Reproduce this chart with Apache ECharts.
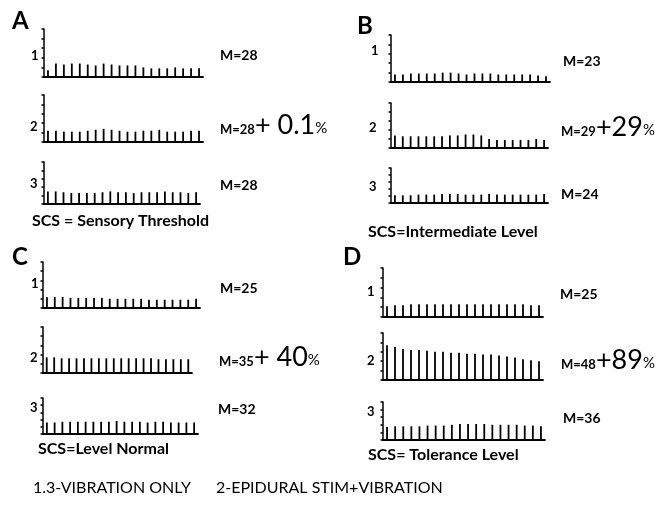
<!DOCTYPE html>
<html><head><meta charset="utf-8">
<script src="https://cdn.jsdelivr.net/npm/echarts@6/dist/echarts.min.js"></script>
<style>html,body{margin:0;padding:0;background:#fff}#c{width:665px;height:506px}</style>
</head><body><div id="c"></div>
<script>
// 20 stimulation trials per trace
const trials = Array.from({length: 20}, (_, i) => String(i + 1));
// spike amplitudes (arbitrary units, axis 0-50)
const A1 = [7,14,13,14,14,13,12,14,13,12,12,12,10,9,9,9,10,9,9,9];
const A2 = [12,12,11,11,11,12,13,14,13,12,11,11,12,12,13,11,11,11,12,12];
const A3 = [15,15,14,13,13,13,13,14,15,14,14,13,14,14,14,15,14,14,13,14];
const B1 = [8,8,9,9,9,9,10,10,9,8,9,9,9,8,8,8,8,8,7,6];
const B2 = [14,13,13,13,13,13,13,14,14,15,15,14,10,9,9,9,9,9,10,9];
const B3 = [11,11,11,12,12,12,13,13,13,12,12,12,13,12,12,12,12,12,12,13];
const C1 = [12,12,12,11,11,11,11,11,10,10,10,10,10,9,9,9,9,9,9,10];
const C2 = [17,17,16,16,16,16,16,16,16,16,16,16,16,16,16,15,15,15,15,15];
const C3 = [16,16,17,17,17,17,17,17,17,18,17,17,17,16,17,17,16,16,16,16];
const D1 = [11,12,12,13,13,13,13,13,13,13,13,13,13,13,13,13,13,13,12,12];
const D2 = [37,35,33,32,32,31,30,30,29,29,28,28,27,27,26,25,24,22,21,20];
const D3 = [17,18,18,18,18,19,19,19,20,21,21,21,21,20,20,20,20,19,19,18];
const traces = [A1,A2,A3,B1,B2,B3,C1,C2,C3,D1,D2,D3];
const yMax = 50, yStep = 10;
// labels
const panelLetters = ['A','B','C','D'];
const traceNames = ['1','2','3'];
const means = ['M=28','M=28','M=28','M=23','M=29','M=24','M=25','M=35','M=32','M=25','M=48','M=36'];
const changes = ['+ 0.1','+29','+ 40','+89'];
const panelTitles = ['SCS = Sensory Threshold','SCS=Intermediate Level','SCS=Level Normal','SCS= Tolerance Level'];
const footer1 = '1.3-VIBRATION ONLY';
const footer2 = '2-EPIDURAL STIM+VIBRATION';

// layout: [axisX, top, rightEnd, baseline]
const boxes = [
 [44,29,203,77],[44,95,203,142],[44,162,200,204],
 [391,35,550,82],[391,103,548,148],[391,168,548,203],
 [43,262,200,308],[43,327,192,373],[43,398,198,434],
 [383,268,543,317],[383,333,543,380],[383,402,545,440]
];
const meanPos = [[220,57],[220,128],[220,187],[563,63],[561,130],[561,196],[220,290],[219,360],[218,411],[560,296],[561,363],[563,420]];
const numPos = [[31,57],[30,128],[30,185],[371,52],[369,129],[369,188],[31,285],[30,359],[30,409],[367,293],[367,362],[367,413]];
const letterPos = [[12,22],[357,27],[12,258],[343,258]];
const titlePos = [[32,222],[368,233],[38,450],[368,456]];

const FONT = 'Lato, "DejaVu Sans", sans-serif';
const grid=[], xAxis=[], yAxis=[], series=[], graphic=[];
traces.forEach((d,i)=>{
  const b = boxes[i];
  grid.push({left:b[0], top:b[1], width:b[2]-b[0], height:b[3]-b[1]});
  xAxis.push({type:'category', gridIndex:i, data:trials, boundaryGap:true,
    axisLine:{show:true, lineStyle:{color:'#000', width:1.8}}, axisTick:{show:false}, axisLabel:{show:false}, splitLine:{show:false}});
  yAxis.push({type:'value', gridIndex:i, min:0, max:yMax, interval:yStep,
    axisLine:{show:true, lineStyle:{color:'#000', width:1.5}}, axisTick:{show:true, length:2.5, lineStyle:{color:'#000', width:1.5}},
    axisLabel:{show:false}, splitLine:{show:false}});
  series.push({type:'bar', xAxisIndex:i, yAxisIndex:i, data:d, barWidth:1.8, itemStyle:{color:'#000'}, silent:true, animation:false});
  const p = i % 3, panel = Math.floor(i/3);
  graphic.push({type:'text', left:numPos[i][0], top:numPos[i][1]-8, style:{text:traceNames[p], font:'bold 13px '+FONT, fill:'#000'}});
  if (p === 1) {
    graphic.push({type:'text', left:meanPos[i][0], top:meanPos[i][1]-16, style:{
      text:'{m|'+means[i]+'}{b|'+changes[panel]+'}{p|%}',
      rich:{m:{font:'bold 13px '+FONT, fill:'#000', verticalAlign:'bottom', padding:[0,0,3,0]},
            b:{font:'27px '+FONT, fill:'#000', verticalAlign:'bottom'},
            p:{font:'15px '+FONT, fill:'#000', verticalAlign:'bottom', padding:[0,0,3,0]}}}});
  } else {
    graphic.push({type:'text', left:meanPos[i][0], top:meanPos[i][1]-9, style:{text:means[i], font:'bold 14px '+FONT, fill:'#000'}});
  }
});
panelLetters.forEach((L,k)=>{
  graphic.push({type:'text', left:letterPos[k][0], top:letterPos[k][1]-13, style:{text:L, font:'bold 24px '+FONT, fill:'#000'}});
  graphic.push({type:'text', left:titlePos[k][0], top:titlePos[k][1]-9, style:{text:panelTitles[k], font:'bold 16px '+FONT, fill:'#000'}});
});
graphic.push({type:'text', left:33, top:480, style:{text:footer1, font:'16px '+FONT, fill:'#000'}});
graphic.push({type:'text', left:216, top:480, style:{text:footer2, font:'16px '+FONT, fill:'#000'}});

const chart = echarts.init(document.getElementById('c'), null, {renderer:'canvas'});
chart.setOption({animation:false, backgroundColor:'#fff', grid, xAxis, yAxis, series, graphic});
</script></body></html>
